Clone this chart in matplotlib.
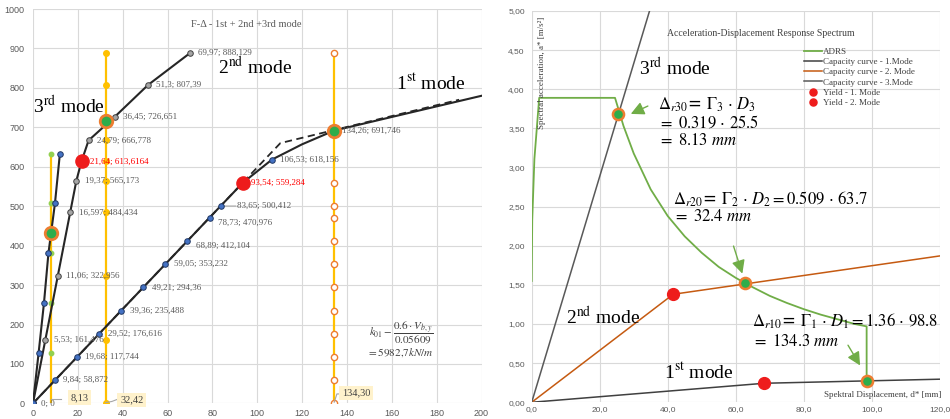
import matplotlib
matplotlib.use('Agg')
import matplotlib.pyplot as plt

plt.rcParams['mathtext.fontset'] = 'stix'
SERIF = 'Liberation Serif'
SANS = 'Liberation Sans'
GRAY_TXT = '#595959'
GRID = '#D9D9D9'

# ---------------- Left chart data (F-Δ) ----------------
m1_x = [0, 9.84, 19.68, 29.52, 39.36, 49.21, 59.05, 68.89, 78.73, 83.65, 93.54, 106.53, 134.26]
m1_y = [0, 58.872, 117.744, 176.616, 235.488, 294.36, 353.232, 412.104, 470.976, 500.412, 559.284, 618.156, 691.746]
m1_tail_x = [106.53, 120, 134.26, 200]
m1_tail_y = [618.156, 657, 691.746, 780]
bil_x = [0, 110.3, 190]
bil_y = [0, 660, 770]

m2_x = [0, 5.53, 11.06, 16.597, 19.37, 21.64, 24.79, 36.45, 51.3, 69.97]
m2_y = [0, 161.476, 322.956, 484.434, 565.173, 613.6164, 666.778, 726.651, 807.39, 888.129]

m3_x = [0, 2.5, 4.9, 6.9, 9.8, 12.0]
m3_y = [0, 127, 254, 381, 507, 633]

yield_L_x = [93.54, 21.64]
yield_L_y = [559.284, 613.6164]
perf_L_x = [134.26, 32.42, 8.13]
perf_L_y = [691.746, 715, 432]

v1_x = 134.30
v1_y = [0, 58.872, 117.744, 176.616, 235.488, 294.36, 353.232, 412.104, 470.976, 500.412, 559.284, 888.129]
v2_x = 32.42
v2_y = [0, 161.476, 322.956, 484.434, 565.173, 613.6164, 666.778, 726.651, 807.39, 888.129]
v3_x = 8.13
v3_y = [127, 254, 381, 507, 633]

# ---------------- Right chart data (ADRS) ----------------
adrs_x = [0, 0.15, 0.79, 2.2, 24.5, 27, 30, 35, 40, 45, 50, 55, 60, 65, 70, 75, 80, 85, 90, 95, 98.5, 98.5]
adrs_y = [1.55, 2.33, 3.11, 3.89, 3.89, 3.53, 3.18, 2.72, 2.38, 2.12, 1.91, 1.73, 1.59, 1.47, 1.36, 1.27, 1.19, 1.12, 1.06, 1.00, 0.97, 0.28]
cap1_x = [0, 68.4, 120]
cap1_y = [0, 0.243, 0.295]
cap2_x = [0, 41.6, 120]
cap2_y = [0, 1.38, 1.87]
cap3_x = [0, 34.65]
cap3_y = [0, 5.0]
yield1_R = (68.4, 0.243)
yield2_R = (41.6, 1.38)
perf_R_x = [25.5, 62.7, 98.5]
perf_R_y = [3.68, 1.52, 0.272]


def lab(v):
    return str(v).replace('.', ',')


fig = plt.figure(figsize=(9.5, 4.19), dpi=100)

# ======================= LEFT =======================
axL = fig.add_axes([0.0347, 0.0372, 0.4722, 0.9413])
axL.set_xlim(0, 200)
axL.set_ylim(0, 1000)
axL.set_xticks(range(0, 201, 20))
axL.set_yticks(range(0, 1001, 100))
axL.grid(True, color=GRID, lw=0.8)
axL.set_axisbelow(True)
for s in axL.spines.values():
    s.set_visible(False)
axL.tick_params(length=0, labelsize=6.5, labelcolor=GRAY_TXT)
axL.tick_params(axis='x', pad=4)
axL.tick_params(axis='y', pad=6)
for t in axL.get_xticklabels() + axL.get_yticklabels():
    t.set_fontfamily(SANS)

YEL = '#FFC000'
# vertical lines
axL.plot([v1_x, v1_x], [0, max(v1_y)], color=YEL, lw=1.6, zorder=2)
axL.plot([v1_x] * len(v1_y), v1_y, 'o', ms=4.5, mfc='white', mec='#ED7D31', mew=1.0, zorder=3)
axL.plot([v2_x, v2_x], [0, max(v2_y)], color=YEL, lw=1.6, zorder=2)
axL.plot([v2_x] * len(v2_y), v2_y, 'o', ms=4, mfc=YEL, mec=YEL, zorder=3)
axL.plot([v3_x, v3_x], [0, max(v3_y)], color=YEL, lw=1.6, zorder=2)
axL.plot([v3_x] * len(v3_y), v3_y, 'o', ms=3.2, mfc='#92D050', mec='#92D050', zorder=3)

LINE = '#262626'
axL.plot(m1_x[:-2] + m1_tail_x, m1_y[:-2] + m1_tail_y, color=LINE, lw=1.5, zorder=4)
axL.plot(bil_x, bil_y, color=LINE, lw=1.3, ls=(0, (4, 2.5)), zorder=4)
axL.plot(m1_x, m1_y, 'o', ms=4, mfc='#4472C4', mec='#203864', mew=0.7, zorder=5)
axL.plot(m2_x, m2_y, '-', color=LINE, lw=1.5, zorder=4)
axL.plot(m2_x, m2_y, 'o', ms=4, mfc='#A5A5A5', mec='#404040', mew=0.7, zorder=5)
axL.plot(m3_x, m3_y, '-', color=LINE, lw=1.5, zorder=4)
axL.plot(m3_x, m3_y, 'o', ms=4, mfc='#4472C4', mec='#203864', mew=0.7, zorder=5)

axL.plot(yield_L_x, yield_L_y, 'o', ms=9.5, mfc='#EE1C1C', mec='#EE1C1C', zorder=6)
axL.plot(perf_L_x, perf_L_y, 'o', ms=9, mfc='#2EAD4B', mec='#ED7D31', mew=2, zorder=6)

# data labels
red_pts = set(zip(yield_L_x, yield_L_y))
for xs, ys in ((m1_x, m1_y), (m2_x[1:], m2_y[1:])):
    for x, y in zip(xs, ys):
        txt = lab(x) + '; ' + lab(y)
        col = '#FF0000' if (x, y) in red_pts else GRAY_TXT
        dx, dy = 6, 0
        if x in (68.89, 78.73):
            dy = -3.5
        if x == 83.65:
            dx = 12
            axL.annotate('', xy=(x, y), xytext=(11, 0), textcoords='offset points',
                         arrowprops=dict(arrowstyle='-', color='#A6A6A6', lw=0.8,
                                         shrinkA=0, shrinkB=2))
        axL.annotate(txt, xy=(x, y), xytext=(dx, dy), textcoords='offset points',
                     ha='left', va='center', fontsize=6.5, color=col,
                     fontfamily=SERIF, zorder=7)

# value boxes
box = dict(boxstyle='square,pad=0.25', fc='#FFF2CC', ec='none')
for val, (bx, by) in ((v3_x, (20.6, 15)), (v2_x, (44.0, 9)), (v1_x, (144.0, 26))):
    axL.text(bx, by, f'{val:.2f}'.replace('.', ','), ha='center', va='center',
             fontsize=7.5, color='#404040', fontfamily=SERIF, bbox=box, zorder=7)
axL.plot([v3_x, 12.7], [10, 10], color='#A6A6A6', lw=0.8, zorder=3)
axL.plot([v2_x, 35.2, 37.5], [2, 5, 10], color='#A6A6A6', lw=0.8, zorder=3)
axL.plot([v1_x, 135.5, 137.5], [3, 24, 24], color='#A6A6A6', lw=0.8, zorder=3)

axL.text(95, 960, 'F-Δ - 1st + 2nd +3rd mode', ha='center', va='center',
         fontsize=7.5, color=GRAY_TXT, fontfamily=SERIF)
axL.text(0.2, 754, '3$^{\\mathrm{rd}}$ mode', ha='left', va='center', fontsize=14, fontfamily=SERIF)
axL.text(82.5, 852, '2$^{\\mathrm{nd}}$ mode', ha='left', va='center', fontsize=14, fontfamily=SERIF)
axL.text(162, 812, '1$^{\\mathrm{st}}$ mode', ha='left', va='center', fontsize=14, fontfamily=SERIF)
axL.text(164, 179, r'$k_{01} - \dfrac{0.6\cdot V_{b,y}}{0.05609}$', ha='center', va='center',
         fontsize=8, color='#404040')
axL.text(164, 128, r'$= 5982{,}7kN/m$', ha='center', va='center', fontsize=8, color='#404040')

# ======================= RIGHT =======================
axR = fig.add_axes([0.5597, 0.0399, 0.4295, 0.9339])
axR.set_xlim(0, 120)
axR.set_ylim(0, 5)
xt = list(range(0, 121, 20))
yt = [i * 0.5 for i in range(11)]
axR.set_xticks(xt)
axR.set_yticks(yt)
axR.set_xticklabels([f'{v:.1f}'.replace('.', ',') for v in xt])
axR.set_yticklabels([f'{v:.2f}'.replace('.', ',') for v in yt])
axR.grid(True, color=GRID, lw=0.8)
axR.set_axisbelow(True)
for s in axR.spines.values():
    s.set_visible(False)
axR.tick_params(length=0, labelsize=6, labelcolor=GRAY_TXT)
axR.tick_params(axis='x', pad=3)
axR.tick_params(axis='y', pad=5)
for t in axR.get_xticklabels() + axR.get_yticklabels():
    t.set_fontfamily(SANS)

GREEN = '#70AD47'
axR.plot(adrs_x, adrs_y, color=GREEN, lw=1.3, label='ADRS', zorder=3)
axR.plot(cap1_x, cap1_y, color='#404040', lw=1.1, label='Capacity curve - 1.Mode', zorder=3)
axR.plot(cap2_x, cap2_y, color='#C55A11', lw=1.1, label='Capacity curve - 2. Mode', zorder=3)
axR.plot(cap3_x, cap3_y, color='#595959', lw=1.1, label='Capacity curve - 3.Mode', zorder=3)
axR.plot([yield1_R[0]], [yield1_R[1]], 'o', ls='none', ms=8.5, color='#EE1C1C', label='Yield - 1. Mode', zorder=5)
axR.plot([yield2_R[0]], [yield2_R[1]], 'o', ls='none', ms=8.5, color='#EE1C1C', label='Yield - 2. Mode', zorder=5)
axR.plot(perf_R_x, perf_R_y, 'o', ls='none', ms=8, mfc='#2EAD4B', mec='#ED7D31', mew=1.8, zorder=6)

leg = axR.legend(loc='upper left', bbox_to_anchor=(0.667, 0.907), frameon=False,
                 prop={'family': SERIF, 'size': 6.5}, handlelength=2.0, handletextpad=0.15,
                 labelspacing=0.22, borderpad=0, borderaxespad=0, markerscale=0.6)
for t in leg.get_texts():
    t.set_color('#404040')

axR.text(0.562, 0.943, 'Acceleration-Displacement Response Spectrum', transform=axR.transAxes,
         ha='center', va='center', fontsize=7, color='#404040', fontfamily=SERIF)
axR.text(0.0245, 0.842, 'Spectral acceleration, a* [m/s²]', transform=axR.transAxes, rotation=90,
         ha='center', va='center', fontsize=6.5, color='#404040', fontfamily=SERIF)
axR.text(0.861, 0.019, 'Spektral Displacement, d* [mm]', transform=axR.transAxes,
         ha='center', va='center', fontsize=6.5, color='#404040', fontfamily=SERIF)

axR.text(31.6, 4.27, '3$^{\\mathrm{rd}}$ mode', ha='left', va='center', fontsize=14, fontfamily=SERIF)
axR.text(10.1, 1.08, '2$^{\\mathrm{nd}}$ mode', ha='left', va='center', fontsize=14, fontfamily=SERIF)
axR.text(38.9, 0.39, '1$^{\\mathrm{st}}$ mode', ha='left', va='center', fontsize=14, fontfamily=SERIF)

FS = 12
D = r'\,\cdot\,'
axR.text(37.2, 3.80, r'$\Delta_{r30}$= $\Gamma_3' + D + r'D_3$', ha='left', va='center', fontsize=FS)
axR.text(37.2, 3.575, r'$=\ 0.319' + D + r'25.5$', ha='left', va='center', fontsize=FS)
axR.text(37.2, 3.35, r'$=\ 8.13\ mm$', ha='left', va='center', fontsize=FS)
axR.text(41.6, 2.60, r'$\Delta_{r20}$= $\Gamma_2' + D + r'D_2 = 0.509' + D + r'63.7$', ha='left', va='center', fontsize=FS)
axR.text(41.6, 2.38, r'$=\ 32.4\ mm$', ha='left', va='center', fontsize=FS)
axR.text(64.8, 1.03, r'$\Delta_{r10}$= $\Gamma_1' + D + r'D_1 = 1.36' + D + r'98.8$', ha='left', va='center', fontsize=FS)
axR.text(64.8, 0.78, r'$=\ 134.3\ mm$', ha='left', va='center', fontsize=FS)

arr = dict(arrowstyle='-|>,head_length=0.8,head_width=0.4', color=GREEN, lw=1.0)
axR.annotate('', xy=(28.4, 3.67), xytext=(34.9, 3.80), arrowprops=arr)
axR.annotate('', xy=(62.2, 1.61), xytext=(59.1, 2.03), arrowprops=arr)
axR.annotate('', xy=(97.0, 0.44), xytext=(92.6, 0.76), arrowprops=arr)

fig.savefig('out.png', dpi=100)
